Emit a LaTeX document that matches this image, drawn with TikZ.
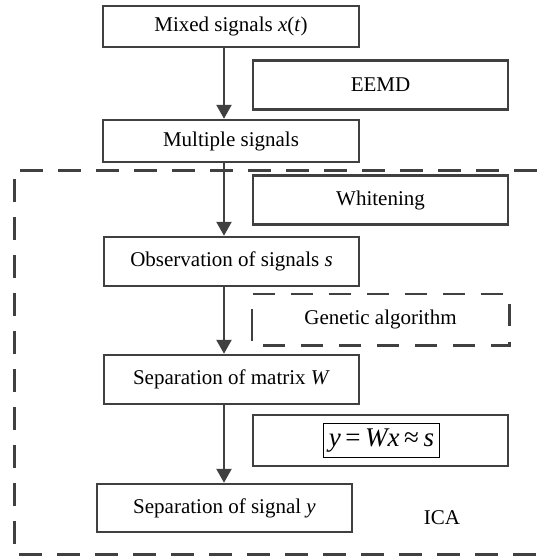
\documentclass[tikz,border=0pt]{standalone}
\usepackage{fontspec}
\setmainfont{Liberation Serif}
\usetikzlibrary{arrows.meta}

\definecolor{linegray}{HTML}{404040}

\begin{document}
\begin{tikzpicture}[x=0.5pt, y=-0.5pt, % one unit is one pixel of the sketch
		mainbox/.style={draw=linegray, line width=1.25pt, inner sep=0pt, font=\rmfamily\fontsize{10.5}{12}\selectfont},
		sidebox/.style={mainbox, minimum width=127.5pt, minimum height=24.5pt},
		flow/.style={draw=linegray, line width=1.25pt, -{Triangle[width=7.5pt, length=7pt]}},
		icaframe/.style={draw=linegray, line width=1.5pt, dash pattern=on 11.5pt off 7.5pt}]
		\useasboundingbox (0,0) rectangle (537,557);

		% Outer ICA frame (right side is cut off)
		\draw[icaframe] (537,170) -- (14,170) -- (14,554) -- (537,554);

		% Main column
		\node[mainbox, minimum width=128pt, minimum height=20.5pt] (mixed) at (231,26.5) {Mixed signals \textit{x}(\textit{t})};
		\node[mainbox, minimum width=128pt, minimum height=21pt] (multiple) at (231,141) {Multiple signals};
		\node[mainbox, minimum width=127.5pt, minimum height=24.5pt] (observe) at (231.5,261.5) {Observation of signals \textit{s}};
		\node[mainbox, minimum width=127.5pt, minimum height=24.5pt] (sepW) at (231.5,379.5) {Separation of matrix \textit{W}};
		\node[mainbox, minimum width=127.5pt, minimum height=24pt] (sepy) at (224.5,508) {Separation of signal \textit{y}};

		% Side boxes
		\node[sidebox] (eemd) at (380.5,85) {EEMD};
		\node[sidebox] (whiten) at (380.5,200) {Whitening};
		\node[sidebox, draw=none] (genetic) at (380.5,319.5) {Genetic algorithm};
		\draw[draw=linegray, line width=1.25pt, dash pattern=on 11pt off 8pt, dash phase=5.5pt]
			(genetic.west) -- (genetic.north west) -- (genetic.north east) -- (genetic.south east) -- (genetic.south west) -- cycle;
		\node[sidebox, minimum height=25.5pt] (relation) at (380.5,440.5) {};
		\node[draw, line width=0.5pt, inner sep=2.5pt, font=\rmfamily\fontsize{13.5}{15}\selectfont] (eqn) at (381.5,440.5) {\textit{y}\,=\,\textit{Wx}\,≈\,\textit{s}};

		\node[font=\rmfamily\fontsize{10.5}{12}\selectfont] (ica) at (442,518) {ICA};

		% Arrows down the main column
		\coordinate (ax) at (224,0);
		\draw[flow] (mixed.south -| ax) -- (multiple.north -| ax);
		\draw[flow] (multiple.south -| ax) -- (observe.north -| ax);
		\draw[flow] (observe.south -| ax) -- (sepW.north -| ax);
		\draw[flow] (sepW.south -| ax) -- (sepy.north -| ax);
	\end{tikzpicture}
\end{document}
